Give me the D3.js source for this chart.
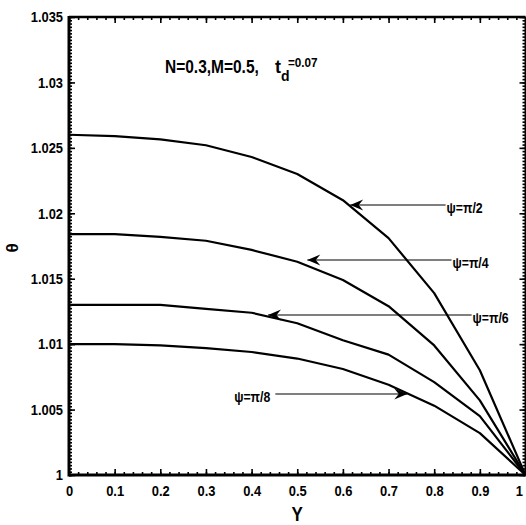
<!DOCTYPE html>
<html>
<head>
<meta charset="utf-8">
<script src="https://cdn.jsdelivr.net/npm/d3@7"></script>
<style>
html,body{margin:0;padding:0;background:#fff;}
svg{display:block;}
text{font-family:"Liberation Sans",Arial,sans-serif;font-weight:bold;fill:#000;}
</style>
</head>
<body>
<svg id="chart" width="526" height="525"></svg>
<script>
// ---- data ----
const xValues = [0, 0.1, 0.2, 0.3, 0.4, 0.5, 0.6, 0.7, 0.8, 0.9, 1.0];
const thetaPi2 = [1.0260, 1.0259, 1.02565, 1.0252, 1.0243, 1.0230, 1.0210, 1.0181, 1.0139, 1.0080, 1.0000];
const thetaPi4 = [1.0184, 1.0184, 1.0182, 1.0179, 1.0172, 1.0163, 1.0149, 1.0129, 1.0099, 1.0057, 1.0000];
const thetaPi6 = [1.0130, 1.0130, 1.0130, 1.0127, 1.0124, 1.0116, 1.0103, 1.0092, 1.0071, 1.0045, 1.0000];
const thetaPi8 = [1.0100, 1.0100, 1.0099, 1.0097, 1.0094, 1.0089, 1.0081, 1.0069, 1.0053, 1.0032, 1.0000];
const seriesNames = ["ψ=π/2", "ψ=π/4", "ψ=π/6", "ψ=π/8"];
const xTicks = [0, 0.1, 0.2, 0.3, 0.4, 0.5, 0.6, 0.7, 0.8, 0.9, 1];
const xTickLabels = ["0", "0.1", "0.2", "0.3", "0.4", "0.5", "0.6", "0.7", "0.8", "0.9", "1"];
const yTicks = [1, 1.005, 1.01, 1.015, 1.02, 1.025, 1.03, 1.035];
const yTickLabels = ["1", "1.005", "1.01", "1.015", "1.02", "1.025", "1.03", "1.035"];
// annotations (data coordinates)
const annoLabel = ["ψ=π/2", "ψ=π/4", "ψ=π/6", "ψ=π/8"];
const annoTextX = [0.827, 0.840, 0.884, 0.441];
const annoArrowY = [1.02063, 1.01643, 1.01223, 1.00619];
const annoTailX = [0.825, 0.838, 0.882, 0.452];
const annoTipX = [0.616, 0.522, 0.436, 0.741];

// ---- layout ----
const svg = d3.select("#chart");
const x = d3.scaleLinear().domain([0, 1]).range([69, 525.5]);
const y = d3.scaleLinear().domain([1, 1.035]).range([475, 17]);

// horizontally condense text (narrow bold look)
function narrow(sel, f) {
  sel.each(function () {
    const w = this.getComputedTextLength();
    d3.select(this).attr("textLength", w * f).attr("lengthAdjust", "spacingAndGlyphs");
  });
}

const defs = svg.append("defs");
defs.append("marker")
  .attr("id", "arr").attr("viewBox", "-14 -7 16 14")
  .attr("refX", 0).attr("refY", 0)
  .attr("markerUnits", "userSpaceOnUse")
  .attr("markerWidth", 16).attr("markerHeight", 14)
  .attr("orient", "auto")
  .append("path").attr("d", "M0,0 L-13,-5.5 L-8.5,0 L-13,5.5 Z").attr("fill", "#000");

// minor ticks
const xMinor = d3.range(0, 51).map(i => +(i * 0.02).toFixed(2));
const yMinor = d3.range(0, 141).map(i => +(1 + i * 0.00025).toFixed(5));

function axisStyle(g) { g.select(".domain").remove(); g.selectAll("line").attr("stroke", "#000").attr("stroke-width", 1.6); }

svg.append("g").attr("transform", `translate(0,${y(1)})`)
  .call(d3.axisBottom(x).tickValues(xMinor).tickSize(-3).tickFormat("")).call(axisStyle);
svg.append("g").attr("transform", `translate(0,${y(1.035)})`)
  .call(d3.axisTop(x).tickValues(xMinor).tickSize(-3).tickFormat("")).call(axisStyle);
svg.append("g").attr("transform", `translate(${x(0)},0)`)
  .call(d3.axisLeft(y).tickValues(yMinor).tickSize(-3).tickFormat("")).call(axisStyle);
svg.append("g").attr("transform", `translate(${x(1)},0)`)
  .call(d3.axisRight(y).tickValues(yMinor).tickSize(-3).tickFormat("")).call(axisStyle);

// major ticks + labels
const xAx = svg.append("g").attr("transform", `translate(0,${y(1)})`)
  .call(d3.axisBottom(x).tickValues(xTicks).tickSize(-6).tickPadding(10)
    .tickFormat((d, i) => xTickLabels[i]));
axisStyle(xAx);
xAx.selectAll("text").attr("font-size", 15).attr("dy", "0.72em").style("font-family", null)
  .call(narrow, 0.86);
xAx.selectAll("text").filter(d => d === 1).attr("text-anchor", "end").attr("x", -3);
const yAx = svg.append("g").attr("transform", `translate(${x(0)},0)`)
  .call(d3.axisLeft(y).tickValues(yTicks).tickSize(-6).tickPadding(6)
    .tickFormat((d, i) => yTickLabels[i]));
axisStyle(yAx);
yAx.selectAll("text").attr("font-size", 15).style("font-family", null).call(narrow, 0.86);
svg.append("g").attr("transform", `translate(0,${y(1.035)})`)
  .call(d3.axisTop(x).tickValues(xTicks).tickSize(-6).tickFormat("")).call(axisStyle);
svg.append("g").attr("transform", `translate(${x(1)},0)`)
  .call(d3.axisRight(y).tickValues(yTicks).tickSize(-6).tickFormat("")).call(axisStyle);

// frame
svg.append("line").attr("x1", x(0)).attr("x2", x(1)).attr("y1", y(1)).attr("y2", y(1)).attr("stroke", "#000").attr("stroke-width", 3);
svg.append("line").attr("x1", x(0)).attr("x2", x(0)).attr("y1", y(1) + 1.5).attr("y2", y(1.035) - 1).attr("stroke", "#000").attr("stroke-width", 3);
svg.append("line").attr("x1", x(0)).attr("x2", x(1)).attr("y1", y(1.035)).attr("y2", y(1.035)).attr("stroke", "#000").attr("stroke-width", 2.5);
svg.append("line").attr("x1", x(1)).attr("x2", x(1)).attr("y1", y(1)).attr("y2", y(1.035)).attr("stroke", "#000").attr("stroke-width", 2);

// curves
const line = d3.line().x((d, i) => x(xValues[i])).y(d => y(d));
[thetaPi2, thetaPi4, thetaPi6, thetaPi8].forEach((s, k) => {
  svg.append("path").datum(s).attr("d", line)
    .attr("fill", "none").attr("stroke", "#000").attr("stroke-width", 2.2)
    .attr("stroke-linejoin", "round").attr("class", "series").attr("data-name", seriesNames[k]);
});

// annotations
annoLabel.forEach((lab, i) => {
  svg.append("line")
    .attr("x1", x(annoTailX[i])).attr("x2", x(annoTipX[i]))
    .attr("y1", y(annoArrowY[i])).attr("y2", y(annoArrowY[i]))
    .attr("stroke", "#000").attr("stroke-width", 1.1).attr("marker-end", "url(#arr)");
  const right = annoTipX[i] < annoTailX[i];
  svg.append("text")
    .attr("x", x(annoTextX[i])).attr("y", y(annoArrowY[i]) + 8)
    .attr("text-anchor", right ? "start" : "end")
    .attr("font-size", 15).text(lab).call(narrow, 0.82);
});

// header annotation
svg.append("text").attr("x", 165).attr("y", 73).attr("font-size", 18)
  .text("N=0.3,M=0.5,").call(narrow, 0.86);
svg.append("text").attr("x", 275).attr("y", 73).attr("font-size", 18).text("t");
svg.append("text").attr("x", 281).attr("y", 81).attr("font-size", 14).text("d");
svg.append("text").attr("x", 288).attr("y", 67).attr("font-size", 13).text("=0.07").call(narrow, 0.9);

// axis titles
svg.append("text").attr("x", (x(0) + x(1)) / 2).attr("y", 521).attr("text-anchor", "middle")
  .attr("font-size", 20).text("Y").call(narrow, 0.85);
svg.append("text").attr("transform", "translate(18,248) rotate(-90)").attr("text-anchor", "middle")
  .attr("font-size", 17).text("θ");
</script>
</body>
</html>
